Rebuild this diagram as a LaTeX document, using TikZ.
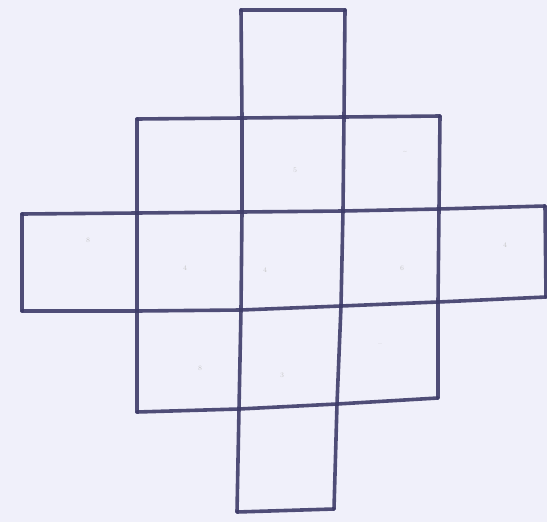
\documentclass[tikz,border=0pt]{standalone}
\definecolor{ink}{RGB}{62,60,105}
\definecolor{paper}{RGB}{240,240,250}
\begin{document}
\begin{tikzpicture}[x=1pt,y=-1pt,
  gridline/.style={draw=ink, line width=3.6pt, opacity=0.9, line join=round, line cap=round},
  faint/.style={text=black!22, font=\scriptsize}]
\fill[paper] (0,0) rectangle (547,522);
\useasboundingbox (0,0) rectangle (547,522);
% top column
\coordinate (t1) at (241,10); \coordinate (t2) at (345,10);
% row1 top
\coordinate (r1a) at (137,119); \coordinate (r1c) at (242,118); \coordinate (r1d) at (344,117); \coordinate (r1e) at (440,116);
% row2 top
\coordinate (r2a) at (22,214); \coordinate (r2b) at (137,213); \coordinate (r2c) at (242,212); \coordinate (r2d) at (343,211); \coordinate (r2e) at (439,209); \coordinate (r2f) at (545,206);
% row3 top
\coordinate (r3a) at (22,311); \coordinate (r3b) at (137,311); \coordinate (r3c) at (241,310); \coordinate (r3d) at (341,306); \coordinate (r3e) at (438,302); \coordinate (r3f) at (546,297);
% row4 top
\coordinate (r4b) at (137,412); \coordinate (r4c) at (239,409); \coordinate (r4d) at (337,404); \coordinate (r4e) at (438,398);
% bottom
\coordinate (b1) at (237,512); \coordinate (b2) at (334,509);
% horizontals
\draw[gridline] (t1) -- (t2);
\draw[gridline] (r1a) -- (r1c) -- (r1d) -- (r1e);
\draw[gridline] (r2a) -- (r2b) -- (r2c) -- (r2d) -- (r2e) -- (r2f);
\draw[gridline] (r3a) -- (r3b) -- (r3c) -- (r3d) -- (r3e) -- (r3f);
\draw[gridline] (r4b) -- (r4c) -- (r4d) -- (r4e);
\draw[gridline] (b1) -- (b2);
% verticals
\draw[gridline] (t1) -- (r1c) -- (r2c) -- (r3c) -- (r4c) -- (b1);
\draw[gridline] (t2) -- (r1d) -- (r2d) -- (r3d) -- (r4d) -- (b2);
\draw[gridline] (r1a) -- (r2b) -- (r3b) -- (r4b);
\draw[gridline] (r1e) -- (r2e) -- (r3e) -- (r4e);
\draw[gridline] (r2a) -- (r3a);
\draw[gridline] (r2f) -- (r3f);
% faint marks
\node[faint] (m1) at (405,152) {\textasciitilde};
\node[faint] (m2) at (295,170) {5};
\node[faint] (m3) at (88,240) {8};
\node[faint] (m4) at (185,268) {4};
\node[faint] (m5) at (265,270) {4};
\node[faint] (m6) at (402,268) {6};
\node[faint] (m7) at (505,245) {4};
\node[faint] (m8) at (200,368) {8};
\node[faint] (m9) at (282,375) {3};
\node[faint] (m10) at (380,345) {--};
\end{tikzpicture}
\end{document}
